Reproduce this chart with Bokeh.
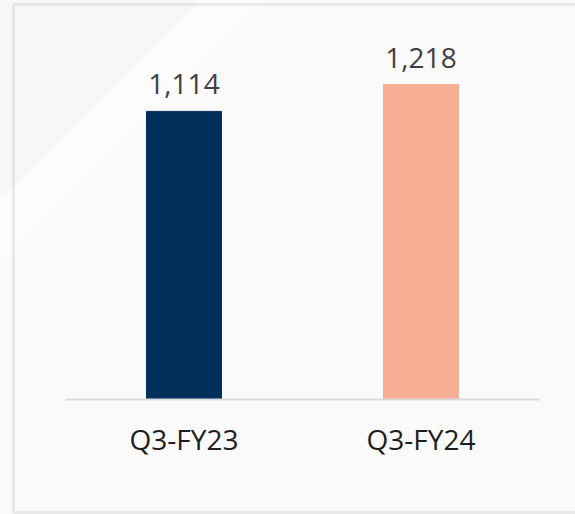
from bokeh.plotting import figure
from bokeh.models import (ColumnDataSource, Range1d, PolyAnnotation, BoxAnnotation,
                          LinearAxis, FixedTicker)
from bokeh.embed import file_html
from bokeh.resources import INLINE
from bokeh.core.properties import value

categories = ["Q3-FY23", "Q3-FY24"]
values = [1114, 1218]
value_labels = ["1,114", "1,218"]
bar_colors = ["#002f5a", "#f8ae94"]

W, H = 575, 514
positions = list(range(len(categories)))
slot_px = 237.0          # pixels per category slot
first_center_px = 183.5  # screen x of first category centre
base_px = 399.0          # screen y of the zero line
px_per_unit = 0.2586     # vertical scale

src = ColumnDataSource(dict(x=positions, val=values, lab=value_labels, color=bar_colors))

p = figure(width=W, height=H,
           x_range=Range1d(-first_center_px / slot_px, (W - first_center_px) / slot_px),
           y_range=Range1d(-(H - base_px) / px_per_unit, base_px / px_per_unit),
           x_axis_location=None, y_axis_location=None,
           output_backend="svg", toolbar_location=None, min_border=0,
           background_fill_color="#fafafa", border_fill_color="#fafafa")

# background decoration (diagonal bands, top-left)
p.add_layout(PolyAnnotation(xs=[0, 200, 0], ys=[0, 0, 200], xs_units="canvas", ys_units="canvas",
                            fill_color="#f3f3f3", line_color=None, level="underlay"))
p.add_layout(PolyAnnotation(xs=[200, 265, 0, 0], ys=[0, 0, 265, 200], xs_units="canvas", ys_units="canvas",
                            fill_color="#ffffff", line_color=None, level="underlay"))
# chart box border
p.add_layout(BoxAnnotation(left=13, right=900, top=4, bottom=512,
                           left_units="canvas", right_units="canvas", top_units="canvas", bottom_units="canvas",
                           fill_color=None, line_color="#c0c0c0", line_width=3, level="underlay"))

p.vbar(x="x", top="val", width=0.3165, color="color", source=src)
p.text(x="x", y="val", text="lab", source=src, text_align="center", text_baseline="alphabetic",
       y_offset=-27, text_font=value("Open Sans"), text_font_size="28px", text_color="#404040")

p.xgrid.visible = False
p.ygrid.visible = False
p.outline_line_color = None

ax = LinearAxis(fixed_location=0, ticker=FixedTicker(ticks=positions),
                major_label_overrides={i: c for i, c in zip(positions, categories)},
                bounds=(-0.5, len(categories) - 0.5))
ax.axis_line_color = "#d9d9d9"
ax.axis_line_width = 2
ax.major_tick_line_color = None
ax.minor_tick_line_color = None
ax.major_tick_in = 0
ax.major_tick_out = 0
ax.major_label_standoff = 20
ax.major_label_text_font = "Open Sans"
ax.major_label_text_font_size = "28px"
ax.major_label_text_color = "#1e1e1e"
p.add_layout(ax, "below")

open("out.html", "w").write(file_html(p, INLINE))
